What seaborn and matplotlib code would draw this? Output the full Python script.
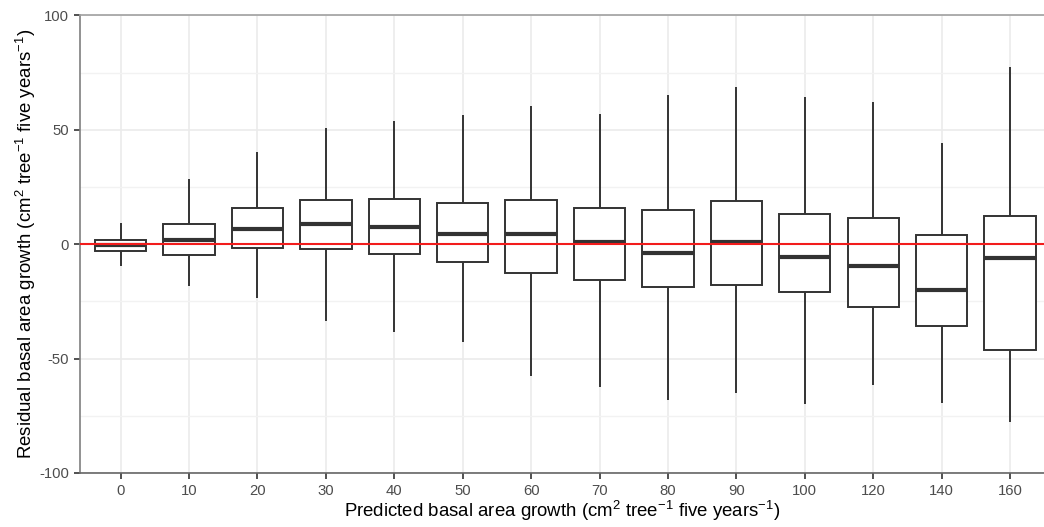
import numpy as np
import pandas as pd
import matplotlib
matplotlib.use("Agg")
import matplotlib.pyplot as plt
from matplotlib.ticker import FixedLocator
import seaborn as sns

# Predicted growth classes (cm2 tree-1 five years-1)
classes = ["0", "10", "20", "30", "40", "50", "60", "70", "80", "90",
           "100", "120", "140", "160"]

# Five-number summaries of residuals for each class
whisker_low = [-9.5, -18.3, -23.7, -33.4, -38.2, -42.6, -57.6, -62.3, -68.1,
               -65.2, -70.0, -61.6, -69.6, -77.9]
q1 = [-3.0, -4.7, -1.7, -2.1, -4.4, -7.6, -12.4, -15.7, -18.6, -17.7, -21.0,
      -27.3, -35.6, -46.4]
median = [-0.5, 1.7, 6.6, 8.8, 7.5, 4.3, 4.6, 0.8, -3.7, 1.0, -5.6, -9.5,
          -20.2, -6.2]
q3 = [1.8, 8.7, 15.7, 19.3, 19.6, 18.0, 19.3, 16.0, 15.1, 19.0, 13.2, 11.3,
      4.2, 12.3]
whisker_high = [9.1, 28.6, 40.4, 50.7, 53.7, 56.4, 60.6, 57.1, 65.2, 68.9,
                64.5, 62.0, 44.2, 77.3]

# Long table: each class holds exactly its five summary values, so the
# quartiles reproduce q1/median/q3 and whis=(0, 100) spans min..max.
rows = []
for c, lo, a, m, b, hi in zip(classes, whisker_low, q1, median, q3, whisker_high):
    for v in (lo, a, m, b, hi):
        rows.append({"pred": c, "resid": v})
df = pd.DataFrame(rows)

sns.set_theme(style="white")
plt.rcParams["font.family"] = ["Liberation Sans", "DejaVu Sans"]
plt.rcParams["mathtext.fontset"] = "custom"
plt.rcParams["mathtext.rm"] = "Liberation Sans"
plt.rcParams["mathtext.it"] = "Liberation Sans:italic"
plt.rcParams["mathtext.bf"] = "Liberation Sans:bold"

fig = plt.figure(figsize=(10.44, 5.27), dpi=100)
ax = fig.add_axes([0.0766, 0.1027, 0.9234, 0.8679])

line_col = "#333333"
sns.boxplot(
    data=df, x="pred", y="resid", order=classes, ax=ax,
    whis=(0, 100), width=0.75, color="white", linecolor=line_col,
    linewidth=1.4, showcaps=False, fliersize=0,
    medianprops={"linewidth": 3.0, "color": line_col},
    boxprops={"facecolor": "white", "edgecolor": line_col},
)

ax.axhline(0, color="#F21C1C", linewidth=1.5, zorder=10)

# Grid
ax.set_ylim(-100, 100)
ax.set_xlim(-0.595, 13.497)
ax.yaxis.set_major_locator(FixedLocator([-100, -50, 0, 50, 100]))
ax.yaxis.set_minor_locator(FixedLocator([-75, -25, 25, 75]))
ax.set_yticklabels(["-100", "-50", "0", "50", "100"])
ax.grid(True, which="major", color="#EBEBEB", linewidth=1.2, zorder=0)
ax.grid(True, which="minor", axis="y", color="#F2F2F2", linewidth=1.0, zorder=0)
ax.set_axisbelow(True)

# Axis lines
ax.spines["right"].set_visible(False)
ax.spines["left"].set_color("#7F7F7F")
ax.spines["bottom"].set_color("#666666")
ax.spines["top"].set_color("#A0A0A0")
for s in ("left", "bottom", "top"):
    ax.spines[s].set_linewidth(1.2)

ax.tick_params(axis="both", which="major", direction="out", length=4.5,
               width=1.2, color=line_col, labelcolor="#4D4D4D",
               labelsize=10.7, pad=3.5, bottom=True, left=True)
ax.tick_params(axis="y", which="minor", length=0)

ax.set_xlabel("Predicted basal area growth (cm$^2$ tree$^{-1}$ five years$^{-1}$)",
              fontsize=13.4, color="black", labelpad=1)
ax.set_ylabel("Residual basal area growth (cm$^2$ tree$^{-1}$ five years$^{-1}$)",
              fontsize=13.4, color="black", labelpad=1)

fig.savefig("out.png", dpi=100)
